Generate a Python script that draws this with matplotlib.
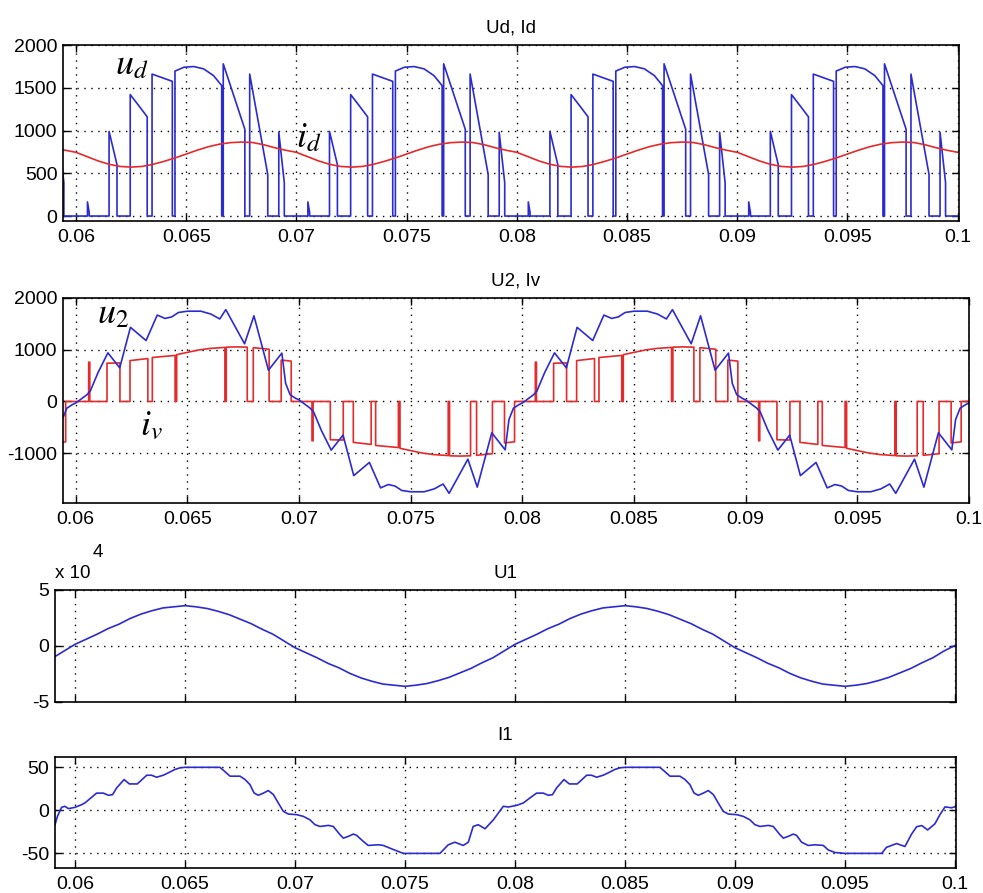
import matplotlib
matplotlib.use("Agg")
import matplotlib.pyplot as plt

# ---------------- data ----------------
x_ticks = [0.06, 0.065, 0.07, 0.075, 0.08, 0.085, 0.09, 0.095, 0.1]
x_tick_labels = ['0.06', '0.065', '0.07', '0.075', '0.08', '0.085', '0.09', '0.095', '0.1']

# common sampling instants for the smooth traces (id, U1)
sample_t = [0.0590, 0.0595,
            0.0600, 0.0605, 0.0610, 0.0615, 0.0620, 0.0625, 0.0630, 0.0635, 0.0640, 0.0645,
            0.0650, 0.0655, 0.0660, 0.0665, 0.0670, 0.0675, 0.0680, 0.0685, 0.0690, 0.0695,
            0.0700, 0.0705, 0.0710, 0.0715, 0.0720, 0.0725, 0.0730, 0.0735, 0.0740, 0.0745,
            0.0750, 0.0755, 0.0760, 0.0765, 0.0770, 0.0775, 0.0780, 0.0785, 0.0790, 0.0795,
            0.0800, 0.0805, 0.0810, 0.0815, 0.0820, 0.0825, 0.0830, 0.0835, 0.0840, 0.0845,
            0.0850, 0.0855, 0.0860, 0.0865, 0.0870, 0.0875, 0.0880, 0.0885, 0.0890, 0.0895,
            0.0900, 0.0905, 0.0910, 0.0915, 0.0920, 0.0925, 0.0930, 0.0935, 0.0940, 0.0945,
            0.0950, 0.0955, 0.0960, 0.0965, 0.0970, 0.0975, 0.0980, 0.0985, 0.0990, 0.0995,
            0.1000]

# Id (red, panel 1)
id_v = [800, 770,
        745, 695, 645, 605, 580, 572, 580, 605, 640, 680, 725, 770, 810, 840, 858, 865, 860, 835, 800, 770,
        745, 695, 645, 605, 580, 572, 580, 605, 640, 680, 725, 770, 810, 840, 858, 865, 860, 835, 800, 770,
        745, 695, 645, 605, 580, 572, 580, 605, 640, 680, 725, 770, 810, 840, 858, 865, 860, 835, 800, 770,
        745, 695, 645, 605, 580, 572, 580, 605, 640, 680, 725, 770, 810, 840, 858, 865, 860, 835, 800, 770,
        745]

# U1 (blue, panel 3), volts
u1_v = [-10500, -4500,
        1500, 6000, 10500, 15500, 19500, 24500, 28500, 31500, 34000, 35000,
        36000, 35000, 33500, 31000, 28000, 24000, 20000, 15000, 10500, 4500,
        -1500, -6000, -10500, -15500, -19500, -24500, -28500, -31500, -34000, -35000,
        -36000, -35000, -33500, -31000, -28000, -24000, -20000, -15000, -10500, -4500,
        1500, 6000, 10500, 15500, 19500, 24500, 28500, 31500, 34000, 35000,
        36000, 35000, 33500, 31000, 28000, 24000, 20000, 15000, 10500, 4500,
        -1500, -6000, -10500, -15500, -19500, -24500, -28500, -31500, -34000, -35000,
        -36000, -35000, -33500, -31000, -28000, -24000, -20000, -15000, -10500, -4500,
        500]

# Ud (blue, panel 1)
ud_t = [0.05920, 0.05920, 0.05945, 0.05945,
        0.06000, 0.06052, 0.06052, 0.06060, 0.06060, 0.06150, 0.06150, 0.06186, 0.06186,
        0.06246, 0.06246, 0.06285, 0.06323, 0.06323, 0.06345, 0.06345, 0.06437, 0.06437,
        0.06449, 0.06449, 0.06490, 0.06534, 0.06579, 0.06624, 0.06661, 0.06661, 0.06668, 0.06668, 0.06766, 0.06766,
        0.06788, 0.06788, 0.06870, 0.06870, 0.06920, 0.06920, 0.06945, 0.06945,
        0.07000, 0.07052, 0.07052, 0.07060, 0.07060, 0.07150, 0.07150, 0.07186, 0.07186,
        0.07246, 0.07246, 0.07285, 0.07323, 0.07323, 0.07345, 0.07345, 0.07437, 0.07437,
        0.07449, 0.07449, 0.07490, 0.07534, 0.07579, 0.07624, 0.07661, 0.07661, 0.07668, 0.07668, 0.07766, 0.07766,
        0.07788, 0.07788, 0.07870, 0.07870, 0.07920, 0.07920, 0.07945, 0.07945,
        0.08000, 0.08052, 0.08052, 0.08060, 0.08060, 0.08150, 0.08150, 0.08186, 0.08186,
        0.08246, 0.08246, 0.08285, 0.08323, 0.08323, 0.08345, 0.08345, 0.08437, 0.08437,
        0.08449, 0.08449, 0.08490, 0.08534, 0.08579, 0.08624, 0.08661, 0.08661, 0.08668, 0.08668, 0.08766, 0.08766,
        0.08788, 0.08788, 0.08870, 0.08870, 0.08920, 0.08920, 0.08945, 0.08945,
        0.09000, 0.09052, 0.09052, 0.09060, 0.09060, 0.09150, 0.09150, 0.09186, 0.09186,
        0.09246, 0.09246, 0.09285, 0.09323, 0.09323, 0.09345, 0.09345, 0.09437, 0.09437,
        0.09449, 0.09449, 0.09490, 0.09534, 0.09579, 0.09624, 0.09661, 0.09661, 0.09668, 0.09668, 0.09766, 0.09766,
        0.09788, 0.09788, 0.09870, 0.09870, 0.09920, 0.09920, 0.09945, 0.09945,
        0.10000]
ud_v = [0, 980, 390, 0,
        0, 0, 165, 40, 0, 0, 990, 600, 0,
        0, 1420, 1290, 1160, 0, 0, 1660, 1575, 0,
        0, 1695, 1740, 1748, 1721, 1642, 1525, 0, 0, 1780, 1015, 0,
        0, 1660, 485, 0, 0, 980, 390, 0,
        0, 0, 165, 40, 0, 0, 990, 600, 0,
        0, 1420, 1290, 1160, 0, 0, 1660, 1575, 0,
        0, 1695, 1740, 1748, 1721, 1642, 1525, 0, 0, 1780, 1015, 0,
        0, 1660, 485, 0, 0, 980, 390, 0,
        0, 0, 165, 40, 0, 0, 990, 600, 0,
        0, 1420, 1290, 1160, 0, 0, 1660, 1575, 0,
        0, 1695, 1740, 1748, 1721, 1642, 1525, 0, 0, 1780, 1015, 0,
        0, 1660, 485, 0, 0, 980, 390, 0,
        0, 0, 165, 40, 0, 0, 990, 600, 0,
        0, 1420, 1290, 1160, 0, 0, 1660, 1575, 0,
        0, 1695, 1740, 1748, 1721, 1642, 1525, 0, 0, 1780, 1015, 0,
        0, 1660, 485, 0, 0, 980, 390, 0,
        0]

# U2 (blue, panel 2)
u2_t = [0.05923, 0.05940, 0.05960, 0.05985,
        0.06000, 0.06050, 0.06065, 0.06100, 0.06144, 0.06197, 0.06245, 0.06315, 0.06365, 0.06400, 0.06430, 0.06460,
        0.06500, 0.06560, 0.06605, 0.06645, 0.06672, 0.06756, 0.06798, 0.06863, 0.06923, 0.06940, 0.06960, 0.06985,
        0.07000, 0.07050, 0.07065, 0.07100, 0.07144, 0.07197, 0.07245, 0.07315, 0.07365, 0.07400, 0.07430, 0.07460,
        0.07500, 0.07560, 0.07605, 0.07645, 0.07672, 0.07756, 0.07798, 0.07863, 0.07923, 0.07940, 0.07960, 0.07985,
        0.08000, 0.08050, 0.08065, 0.08100, 0.08144, 0.08197, 0.08245, 0.08315, 0.08365, 0.08400, 0.08430, 0.08460,
        0.08500, 0.08560, 0.08605, 0.08645, 0.08672, 0.08756, 0.08798, 0.08863, 0.08923, 0.08940, 0.08960, 0.08985,
        0.09000, 0.09050, 0.09065, 0.09100, 0.09144, 0.09197, 0.09245, 0.09315, 0.09365, 0.09400, 0.09430, 0.09460,
        0.09500, 0.09560, 0.09605, 0.09645, 0.09672, 0.09756, 0.09798, 0.09863, 0.09923, 0.09940, 0.09960, 0.09985,
        0.10000]
u2_v = [-935, -350, -130, -60,
        -30, 130, 200, 560, 940, 650, 1433, 1178, 1670, 1605, 1635, 1720,
        1745, 1745, 1690, 1595, 1775, 1115, 1656, 605, 935, 350, 130, 60,
        30, -130, -200, -560, -940, -650, -1433, -1178, -1670, -1605, -1635, -1720,
        -1745, -1745, -1690, -1595, -1775, -1115, -1656, -605, -935, -350, -130, -60,
        -30, 130, 200, 560, 940, 650, 1433, 1178, 1670, 1605, 1635, 1720,
        1745, 1745, 1690, 1595, 1775, 1115, 1656, 605, 935, 350, 130, 60,
        30, -130, -200, -560, -940, -650, -1433, -1178, -1670, -1605, -1635, -1720,
        -1745, -1745, -1690, -1595, -1775, -1115, -1656, -605, -935, -350, -130, -60,
        -30]

# Iv (red, panel 2)
iv_t = [0.05920, 0.05920, 0.05955, 0.05955,
        0.06000, 0.06058, 0.06058, 0.06063, 0.06063, 0.06140, 0.06140, 0.06198, 0.06198,
        0.06243, 0.06243, 0.06323, 0.06323, 0.06343, 0.06343, 0.06445, 0.06445,
        0.06452, 0.06452, 0.06500, 0.06550, 0.06600, 0.06668, 0.06668, 0.06674, 0.06674, 0.06720, 0.06768, 0.06768,
        0.06795, 0.06795, 0.06866, 0.06866, 0.06920, 0.06920, 0.06965, 0.06965,
        0.07000, 0.07058, 0.07058, 0.07063, 0.07063, 0.07140, 0.07140, 0.07198, 0.07198,
        0.07243, 0.07243, 0.07323, 0.07323, 0.07343, 0.07343, 0.07445, 0.07445,
        0.07452, 0.07452, 0.07500, 0.07550, 0.07600, 0.07668, 0.07668, 0.07674, 0.07674, 0.07720, 0.07768, 0.07768,
        0.07795, 0.07795, 0.07866, 0.07866, 0.07920, 0.07920, 0.07965, 0.07965,
        0.08000, 0.08058, 0.08058, 0.08063, 0.08063, 0.08140, 0.08140, 0.08198, 0.08198,
        0.08243, 0.08243, 0.08323, 0.08323, 0.08343, 0.08343, 0.08445, 0.08445,
        0.08452, 0.08452, 0.08500, 0.08550, 0.08600, 0.08668, 0.08668, 0.08674, 0.08674, 0.08720, 0.08768, 0.08768,
        0.08795, 0.08795, 0.08866, 0.08866, 0.08920, 0.08920, 0.08965, 0.08965,
        0.09000, 0.09058, 0.09058, 0.09063, 0.09063, 0.09140, 0.09140, 0.09198, 0.09198,
        0.09243, 0.09243, 0.09323, 0.09323, 0.09343, 0.09343, 0.09445, 0.09445,
        0.09452, 0.09452, 0.09500, 0.09550, 0.09600, 0.09668, 0.09668, 0.09674, 0.09674, 0.09720, 0.09768, 0.09768,
        0.09795, 0.09795, 0.09866, 0.09866, 0.09920, 0.09920, 0.09965, 0.09965,
        0.10000]
iv_v = [0, -800, -780, 0,
        0, 0, 760, 760, 0, 0, 740, 745, 0,
        0, 790, 830, 0, 0, 850, 890, 0,
        0, 905, 950, 995, 1025, 1045, 0, 0, 1050, 1055, 1050, 0,
        0, 1040, 1010, 0, 0, 800, 780, 0,
        0, 0, -760, -760, 0, 0, -740, -745, 0,
        0, -790, -830, 0, 0, -850, -890, 0,
        0, -905, -950, -995, -1025, -1045, 0, 0, -1050, -1055, -1050, 0,
        0, -1040, -1010, 0, 0, -800, -780, 0,
        0, 0, 760, 760, 0, 0, 740, 745, 0,
        0, 790, 830, 0, 0, 850, 890, 0,
        0, 905, 950, 995, 1025, 1045, 0, 0, 1050, 1055, 1050, 0,
        0, 1040, 1010, 0, 0, 800, 780, 0,
        0, 0, -760, -760, 0, 0, -740, -745, 0,
        0, -790, -830, 0, 0, -850, -890, 0,
        0, -905, -950, -995, -1025, -1045, 0, 0, -1050, -1055, -1050, 0,
        0, -1040, -1010, 0, 0, -800, -780, 0,
        0]

# I1 (blue, panel 4)
i1_t = [0.05909, 0.05920, 0.05939, 0.05954, 0.05970, 0.06000, 0.06030, 0.06045, 0.06068, 0.06098,
        0.06129, 0.06152, 0.06171, 0.06189, 0.06223, 0.06247, 0.06283, 0.06326, 0.06348, 0.06371,
        0.06401, 0.06424, 0.06454, 0.06477, 0.06500, 0.06659, 0.06705, 0.06750, 0.06773, 0.06795,
        0.06814, 0.06833, 0.06856, 0.06879, 0.06902, 0.06924, 0.06947, 0.06970, 0.07008, 0.07038,
        0.07068, 0.07091, 0.07114, 0.07152, 0.07174, 0.07205, 0.07220, 0.07242, 0.07265, 0.07280,
        0.07311, 0.07333, 0.07379, 0.07402, 0.07432, 0.07462, 0.07492, 0.07659, 0.07697, 0.07727,
        0.07765, 0.07788, 0.07810, 0.07833, 0.07864, 0.07902, 0.07947, 0.07970, 0.08008, 0.08038,
        0.08068, 0.08098, 0.08129, 0.08152, 0.08171, 0.08189, 0.08223, 0.08247, 0.08283, 0.08326,
        0.08348, 0.08371, 0.08401, 0.08424, 0.08454, 0.08477, 0.08500, 0.08659, 0.08705, 0.08750,
        0.08773, 0.08795, 0.08814, 0.08833, 0.08856, 0.08879, 0.08902, 0.08924, 0.08947, 0.08970,
        0.09008, 0.09038, 0.09068, 0.09091, 0.09114, 0.09152, 0.09174, 0.09205, 0.09220, 0.09242,
        0.09265, 0.09280, 0.09303, 0.09333, 0.09364, 0.09402, 0.09424, 0.09455, 0.09500, 0.09667,
        0.09689, 0.09735, 0.09773, 0.09803, 0.09826, 0.09850, 0.09876, 0.09909, 0.09932, 0.09955,
        0.09985, 0.10008]
i1_v = [-16.7, -7.0, 3.5, 4.7, 2.0, 3.5, 6.6, 8.6, 13.6, 20.0,
        20.0, 17.5, 18.3, 26.0, 35.8, 30.7, 30.7, 40.8, 40.8, 38.5,
        40.8, 43.6, 47.5, 49.4, 50.0, 50.0, 39.7, 39.7, 35.8, 30.0,
        20.2, 17.5, 20.0, 23.0, 18.3, 8.6, -1.2, -4.3, -5.0, -7.0,
        -11.0, -16.7, -18.7, -17.5, -18.7, -28.4, -32.3, -30.3, -27.6, -29.0,
        -36.2, -40.8, -40.0, -40.8, -44.0, -47.0, -50.0, -50.0, -40.0, -37.0,
        -40.8, -37.0, -18.7, -16.7, -21.4, -11.0, 4.7, 3.9, 5.8, 8.6,
        14.4, 20.0, 20.0, 17.5, 18.3, 26.0, 35.8, 30.7, 30.7, 40.8,
        40.8, 38.5, 40.8, 43.6, 47.5, 49.4, 50.0, 50.0, 39.7, 39.7,
        35.8, 30.0, 20.2, 17.5, 20.0, 23.0, 18.3, 8.6, -1.2, -4.3,
        -5.0, -7.0, -11.0, -16.7, -18.7, -17.5, -18.7, -28.4, -32.3, -30.3,
        -27.6, -29.0, -37.0, -40.8, -40.0, -40.8, -46.0, -49.0, -50.0, -50.0,
        -43.0, -38.6, -42.0, -27.6, -19.0, -17.7, -22.8, -15.7, -5.0, 4.0,
        3.0, 4.7]

# ---------------- drawing ----------------
plt.rcParams['font.family'] = ['Liberation Sans', 'DejaVu Sans']
plt.rcParams['mathtext.fontset'] = 'stix'
plt.rcParams['axes.unicode_minus'] = False

BLUE = '#2b2bd0'
RED = '#e42a2a'

W, H = 983, 893
fig = plt.figure(figsize=(W / 100, H / 100), dpi=100)
fig.patch.set_facecolor('white')


def make_ax(l, t, r, b):
    return fig.add_axes([l / W, 1 - b / H, (r - l) / W, (b - t) / H])


def style(ax, xlim, ylim, yticks, ylabels, title, show_x=True, title_pad=9):
    ax.set_xlim(*xlim)
    ax.set_ylim(*ylim)
    ax.set_xticks(x_ticks)
    ax.set_xticklabels(x_tick_labels)
    ax.set_yticks(yticks)
    ax.set_yticklabels(ylabels)
    ax.tick_params(direction='in', top=True, right=True, length=5, width=1,
                   labelsize=14, color='k')
    ax.tick_params(axis='x', pad=6, labelbottom=show_x)
    ax.tick_params(axis='y', pad=4)
    ax.grid(True, color='k', linestyle=(0, (1, 4)), linewidth=1.0)
    ax.set_axisbelow(True)
    for s in ax.spines.values():
        s.set_linewidth(1.2)
    ax.set_title(title, fontsize=13.5, pad=title_pad)


# Panel 1: Ud, Id
ax1 = make_ax(63, 45, 959, 221)
ax1.plot(ud_t, ud_v, color=BLUE, lw=1.2)
ax1.plot(sample_t, id_v, color=RED, lw=1.2)
style(ax1, (0.05941, 0.10006), (-58, 2000), [0, 500, 1000, 1500, 2000],
      ['0', '500', '1000', '1500', '2000'], 'Ud, Id')
ax1.text(0.058, 0.835, r'$u_d$', transform=ax1.transAxes, fontsize=26,
         ha='left', va='baseline')
ax1.text(0.26, 0.42, r'$i_d$', transform=ax1.transAxes, fontsize=26,
         ha='left', va='baseline')

# Panel 2: U2, Iv
ax2 = make_ax(63, 298, 969, 503)
ax2.plot(iv_t, iv_v, color=RED, lw=1.2)
ax2.plot(u2_t, u2_v, color=BLUE, lw=1.2)
style(ax2, (0.05943, 0.1), (-1962, 2000), [-1000, 0, 1000, 2000],
      ['-1000', '0', '1000', '2000'], 'U2, Iv')
ax2.text(0.0375, 0.878, r'$u_2$', transform=ax2.transAxes, fontsize=26,
         ha='left', va='baseline')
ax2.text(0.085, 0.332, r'$i_v$', transform=ax2.transAxes, fontsize=26,
         ha='left', va='baseline')

# Panel 3: U1
ax3 = make_ax(55, 590, 956, 702)
ax3.plot(sample_t, u1_v, color=BLUE, lw=1.2)
style(ax3, (0.05909, 0.10005), (-50000, 50000), [-50000, 0, 50000],
      ['-5', '0', '5'], 'U1', show_x=False)
fig.text(55 / W, 1 - 578 / H, 'x 10', fontsize=13.5, ha='left', va='baseline')
fig.text(93 / W, 1 - 557 / H, '4', fontsize=13.5, ha='left', va='baseline')

# Panel 4: I1
ax4 = make_ax(55, 757, 956, 868)
ax4.plot(i1_t, i1_v, color=BLUE, lw=1.2)
style(ax4, (0.05909, 0.10005), (-67, 62), [-50, 0, 50],
      ['-50', '0', '50'], 'I1', title_pad=12)

fig.savefig('out.png', dpi=100, facecolor='white')
